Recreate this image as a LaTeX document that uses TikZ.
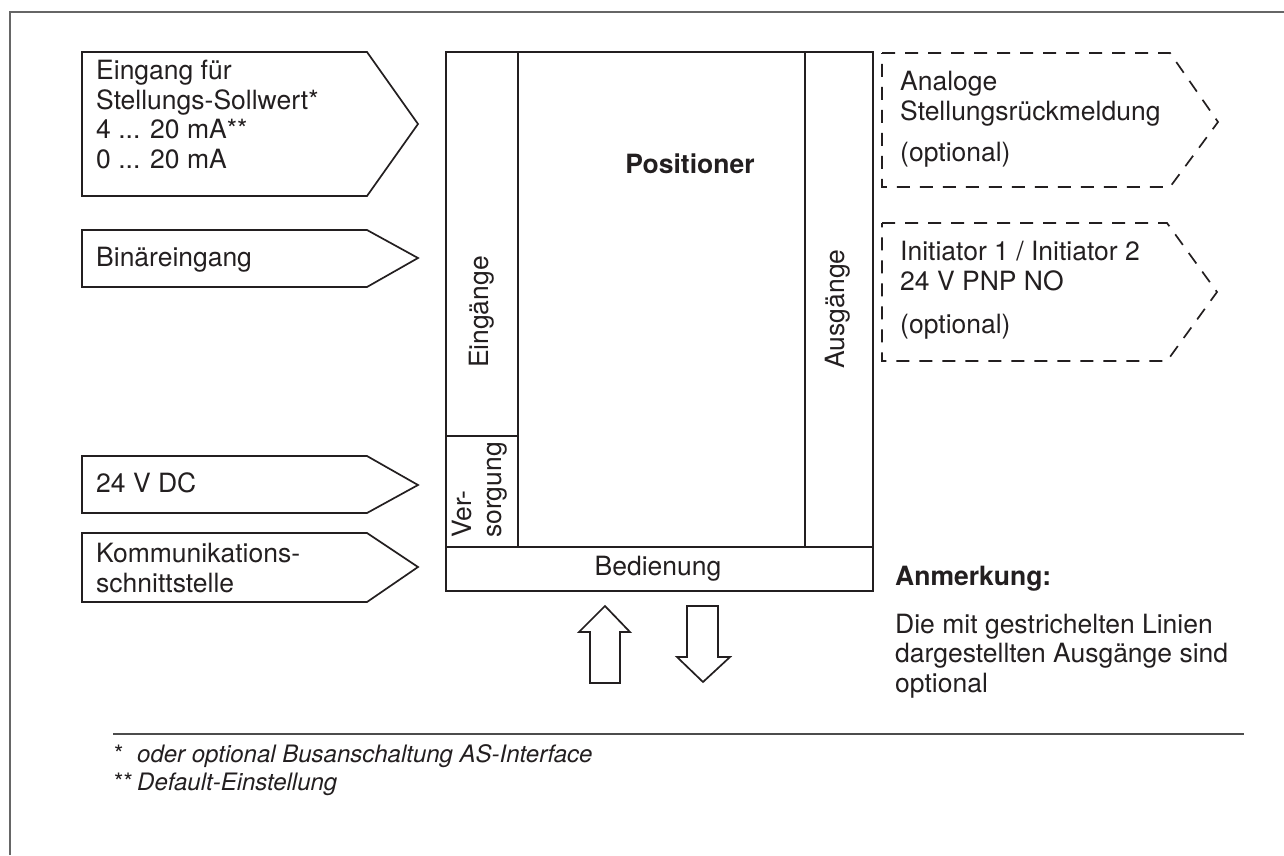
\documentclass[tikz,border=0pt]{standalone}
\usepackage{fontspec}
\setmainfont{TeX Gyre Heros}
\definecolor{ink}{HTML}{231F20}

\begin{document}
\begin{tikzpicture}[line cap=butt,line join=miter,x=1pt,y=1pt,color=ink,
	box/.style={line width=1.7pt},
	dbox/.style={line width=1.7pt,dash pattern=on 13pt off 10pt},
	txt/.style={inner sep=0pt,anchor=base west,align=left,font=\fontsize{26.5}{29.5}\selectfont},
	ctxt/.style={inner sep=0pt,font=\fontsize{26.5}{29.5}\selectfont},
	foot/.style={inner sep=0pt,anchor=base west,font=\fontsize{24}{28}\selectfont}]
		\useasboundingbox (0,0) rectangle (1284,-855);
		% frame
		\draw [line width=1.4pt,gray!80!black] (10,-855)-- (10,-12)-- (1284,-12);
		% inputs (text nodes sit on their last baseline)
		\draw [box] (82,-52)-- (367,-52)-- (418,-124)-- (367,-196)-- (82,-196)-- cycle;
		\draw [box] (82,-230)-- (367,-230)-- (418,-258)-- (367,-287)-- (82,-287)-- cycle;
		\draw [box] (82,-456)-- (367,-456)-- (418,-485)-- (367,-513)-- (82,-513)-- cycle;
		\draw [box] (82,-533)-- (367,-533)-- (418,-567)-- (367,-602)-- (82,-602)-- cycle;
		\node[txt] (soll) at (96,-168) {Eingang für\\Stellungs-Sollwert*\\4 ... 20 mA**\\0 ... 20 mA};
		\node[txt] (bin) at (96,-266) {Binäreingang};
		\node[txt] (dc) at (96,-492) {24 V DC};
		\node[txt] (komm) at (96,-592) {Kommunikations-\\schnittstelle};
		% positioner
		\draw [box] (446,-52) rectangle (873,-591);
		\draw [box] (518,-52)-- (518,-547);
		\draw [box] (805,-52)-- (805,-547);
		\draw [box] (446,-436)-- (518,-436);
		\draw [box] (446,-547)-- (873,-547);
		\node[ctxt,anchor=base,font=\fontsize{26.5}{29.5}\selectfont\bfseries] (pos) at (690,-173) {Positioner};
		\node[ctxt,rotate=90] (ein) at (482,-312) {Eingänge};
		\node[ctxt,rotate=90] (aus) at (838,-309) {Ausgänge};
		\node[ctxt,rotate=90,anchor=north west,align=left] (vers) at (452,-538) {Ver-\\sorgung};
		\node[ctxt,anchor=base] (bed) at (658,-575) {Bedienung};
		% operating arrows
		\draw [box] (590,-683)-- (590,-632)-- (579,-632)-- (605,-606)-- (630,-632)-- (620,-632)-- (620,-683)-- cycle;
		\draw [box] (687,-606)-- (718,-606)-- (718,-657)-- (730,-657)-- (703,-682)-- (677,-657)-- (687,-657)-- cycle;
		% optional outputs
		\draw [dbox] (882,-53)-- (1170,-53)-- (1218,-122)-- (1170,-187)-- (882,-187)-- cycle;
		\draw [dbox] (882,-223)-- (1167,-223)-- (1217,-292)-- (1167,-361)-- (882,-361)-- cycle;
		\node[txt] (ana) at (900,-120) {Analoge\\Stellungsrückmeldung};
		\node[txt] (opt1) at (900,-161) {(optional)};
		\node[txt] (ini) at (900,-290) {Initiator 1 / Initiator 2\\24 V PNP NO};
		\node[txt] (opt2) at (900,-333) {(optional)};
		% note
		\node[txt,font=\fontsize{26.5}{29.5}\selectfont\bfseries] (anm) at (895,-585) {Anmerkung:};
		\node[txt] (hinw) at (895,-692) {Die mit gestrichelten Linien\\dargestellten Ausgänge sind\\optional};
		% footnotes
		\draw [line width=1.4pt,gray!60!black] (113,-734)-- (1244,-734);
		\node[foot] (f1) at (114,-762) {*};
		\node[foot] (f1t) at (137,-762) {\itshape oder optional Busanschaltung AS-Interface};
		\node[foot] (f2) at (114,-790) {**};
		\node[foot] (f2t) at (137,-790) {\itshape Default-Einstellung};
		\end{tikzpicture}
\end{document}
